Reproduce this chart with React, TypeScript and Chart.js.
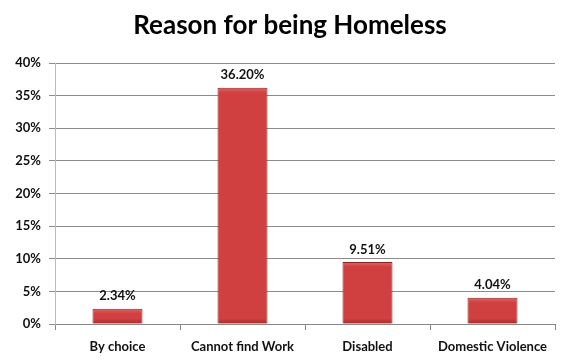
import React, { useEffect, useRef } from "react";
import { Chart, registerables } from "chart.js";

Chart.register(...registerables);

const categories = ["By choice", "Cannot find Work", "Disabled", "Domestic Violence"];
const values = [2.34, 36.2, 9.51, 4.04];
const valueLabels = ["2.34%", "36.20%", "9.51%", "4.04%"];
const titleText = "Reason for being Homeless";

const FONT = "Lato, 'Open Sans', 'DejaVu Sans', sans-serif";

const dataLabelPlugin = {
  id: "dataLabels",
  afterDatasetsDraw(chart: any) {
    const ctx = chart.ctx;
    const meta = chart.getDatasetMeta(0);
    ctx.save();
    ctx.font = `bold 13px ${FONT}`;
    ctx.fillStyle = "#111";
    ctx.textAlign = "center";
    ctx.textBaseline = "bottom";
    meta.data.forEach((el: any, i: number) => {
      ctx.fillText(valueLabels[i], el.x, el.y - 6);
    });
    ctx.restore();
  },
};

const titlePlugin = {
  id: "customTitle",
  afterDraw(chart: any) {
    const ctx = chart.ctx;
    ctx.save();
    ctx.font = `bold 26px ${FONT}`;
    ctx.fillStyle = "#000";
    ctx.textAlign = "center";
    ctx.textBaseline = "middle";
    ctx.fillText(titleText, 290, 26);
    ctx.restore();
  },
};

const bevelPlugin = {
  id: "bevel",
  afterDatasetsDraw(chart: any) {
    const ctx = chart.ctx;
    const meta = chart.getDatasetMeta(0);
    ctx.save();
    meta.data.forEach((el: any) => {
      const w = el.width;
      const left = el.x - w / 2;
      const top = el.y;
      const bottom = el.base;
      const h = bottom - top;
      const t = Math.min(5, h / 3);
      const gt = ctx.createLinearGradient(0, top, 0, top + t);
      gt.addColorStop(0, "rgba(255,170,170,0.35)");
      gt.addColorStop(1, "rgba(255,170,170,0)");
      ctx.fillStyle = gt;
      ctx.fillRect(left + 1, top + 1, w - 2, t);
      const gb = ctx.createLinearGradient(0, bottom - t, 0, bottom);
      gb.addColorStop(0, "rgba(90,10,10,0)");
      gb.addColorStop(1, "rgba(90,10,10,0.35)");
      ctx.fillStyle = gb;
      ctx.fillRect(left + 1, bottom - t, w - 2, t);
    });
    ctx.restore();
  },
};

export default function App() {
  const ref = useRef<HTMLCanvasElement | null>(null);
  useEffect(() => {
    const canvas = ref.current!;
    const chart = new Chart(canvas, {
      type: "bar",
      data: {
        labels: categories,
        datasets: [
          {
            data: values,
            backgroundColor: (c: any) => {
              const el = c.element;
              const ctx = c.chart.ctx;
              if (!el || el.x === undefined || !el.width) return "#d04040";
              const w = el.width;
              const g = ctx.createLinearGradient(el.x - w / 2, 0, el.x + w / 2, 0);
              g.addColorStop(0, "#a82a2a");
              g.addColorStop(0.1, "#d24242");
              g.addColorStop(0.45, "#e04a4a");
              g.addColorStop(0.85, "#c43838");
              g.addColorStop(1, "#8e2020");
              return g;
            },
            borderColor: "#8a2020",
            borderWidth: 1,
            barPercentage: 0.4,
            categoryPercentage: 1,
          },
        ],
      },
      options: {
        responsive: false,
        animation: false,
        layout: { padding: { left: 0, right: 20, top: 63, bottom: 0 } },
        plugins: {
          legend: { display: false },
          tooltip: { enabled: false },
          title: { display: false },
        },
        scales: {
          x: {
            grid: {
              display: true,
              drawOnChartArea: false,
              drawTicks: true,
              tickLength: 6,
              color: "#888",
              offset: true,
            },
            border: { display: true, color: "#888" },
            ticks: {
              color: "#111",
              font: { family: FONT, size: 13, weight: "bold" },
              padding: 9,
              maxRotation: 0,
              autoSkip: false,
            },
            afterFit: (s: any) => {
              s.height = 36;
            },
          },
          y: {
            min: 0,
            max: 40,
            grid: {
              color: "#8c8c8c",
              tickLength: 6,
            },
            border: { display: true, color: "#bbb" },
            ticks: {
              stepSize: 5,
              color: "#111",
              font: { family: FONT, size: 13, weight: "bold" },
              padding: 8,
              callback: (v: any) => v + "%",
            },
            afterFit: (s: any) => {
              s.width = 55;
            },
          },
        },
      },
      plugins: [dataLabelPlugin, bevelPlugin, titlePlugin],
    });
    return () => chart.destroy();
  }, []);
  return (
    <div style={{ position: "fixed", left: 0, top: 0, width: 575, height: 360, background: "#fff" }}>
      <canvas ref={ref} width={575} height={360} />
    </div>
  );
}
